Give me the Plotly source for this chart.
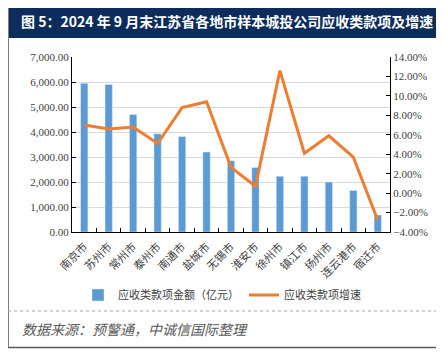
import plotly.graph_objects as go

cities = ["南京市", "苏州市", "常州市", "泰州市", "南通市", "盐城市", "无锡市",
          "淮安市", "徐州市", "镇江市", "扬州市", "连云港市", "宿迁市"]
amounts = [5950, 5900, 4700, 3930, 3820, 3200, 2850, 2580, 2230, 2230, 2000, 1660, 680]
growth = [7.0, 6.6, 6.8, 5.1, 8.8, 9.4, 2.65, 0.7, 12.6, 4.1, 5.9, 3.7, -2.8]

title_text = "图 5：2024 年 9 月末江苏省各地市样本城投公司应收类款项及增速"
source_text = "数据来源：预警通，中诚信国际整理"
bar_name = "应收类款项金额（亿元）"
line_name = "应收类款项增速"

# page body has an 8px default margin; work in screen coords and compensate
OX, OY = 8, 8
W, H = 444 - OX, 357 - OY
L, R, T, B = 72, 390, 57, 232   # plot area in screen pixels

def px(x):
    return (x - L) / (R - L)

def py(y):
    return (B - y) / (B - T)

fig = go.Figure()
fig.add_trace(go.Bar(x=cities, y=amounts, name=bar_name, marker_color="#5B9BD5",
                     width=0.3, yaxis="y"))
fig.add_trace(go.Scatter(x=cities, y=growth, name=line_name, mode="lines",
                         line=dict(color="#ED7D31", width=3), yaxis="y2"))

tickfont = dict(family="Liberation Serif, Times New Roman, serif", size=11, color="#404040")

fig.update_layout(
    width=W, height=H,
    margin=dict(l=L - OX, r=444 - R, t=T - OY, b=357 - B, pad=0),
    paper_bgcolor="white", plot_bgcolor="white",
    showlegend=True,
    legend=dict(orientation="h", x=px(78), y=py(295), xanchor="left", yanchor="middle",
                font=dict(family="Noto Sans CJK SC", size=11, color="#404040"),
                itemwidth=30, tracegroupgap=0, bgcolor="rgba(0,0,0,0)"),
    bargap=0.7,
    xaxis=dict(type="category", tickangle=-45, showline=True, linecolor="black", linewidth=1,
               ticks="inside", ticklen=4, tickcolor="black", tickson="boundaries",
               ticklabelstandoff=3,
               tickfont=dict(family="Noto Sans CJK SC", size=11, color="#404040"),
               showgrid=False, mirror=False),
    yaxis=dict(range=[0, 7000], dtick=1000, tickformat=",.2f", showline=True,
               linecolor="black", linewidth=1, ticks="inside", ticklen=4, tickcolor="black",
               showgrid=True, gridcolor="#D9D9D9", gridwidth=1, zeroline=False,
               tickfont=tickfont),
    yaxis2=dict(range=[-4, 14], dtick=2, tickformat=".2f", ticksuffix="%", overlaying="y",
                side="right", showline=True, linecolor="black", linewidth=1,
                ticks="inside", ticklen=4, tickcolor="black", showgrid=False,
                zeroline=False, tickfont=tickfont),
)

shapes = [
    # title band
    dict(type="rect", xref="paper", yref="paper", x0=px(8), x1=px(443), y0=py(4), y1=py(38),
         fillcolor="#0C2D5B", line=dict(width=0), layer="below"),
    # outer frame lines
    dict(type="line", xref="paper", yref="paper", x0=px(8.5), x1=px(8.5), y0=py(8), y1=py(348),
         line=dict(color="#7F7F7F", width=1)),
    dict(type="line", xref="paper", yref="paper", x0=px(8), x1=px(444), y0=py(347.5), y1=py(347.5),
         line=dict(color="#595959", width=1.5)),
    dict(type="line", xref="paper", yref="paper", x0=px(8), x1=px(444), y0=py(311), y1=py(311),
         line=dict(color="#A6A6A6", width=1, dash="dot")),
]
fig.update_layout(shapes=shapes)

fig.add_annotation(text="<b>" + title_text + "</b>", xref="paper", yref="paper",
                   x=px(19), y=py(21), xanchor="left", yanchor="middle", showarrow=False,
                   font=dict(family="Noto Sans CJK SC", size=14, color="white"))
fig.add_annotation(text="<i>" + source_text + "</i>", xref="paper", yref="paper",
                   x=px(20), y=py(329), xanchor="left", yanchor="middle", showarrow=False,
                   font=dict(family="Noto Sans CJK SC", size=14, color="#595959"))

fig.write_html("out.html")
